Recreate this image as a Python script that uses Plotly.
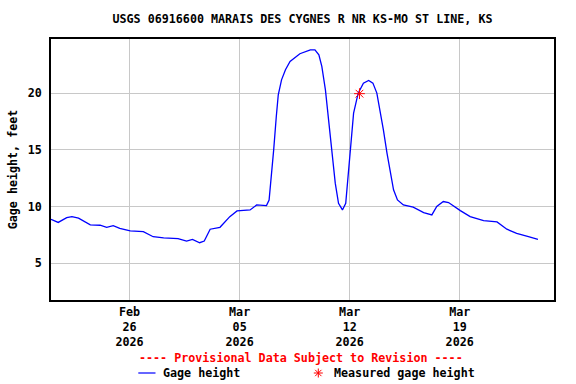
import plotly.graph_objects as go

# ---- data ----
times = [
    "2026-02-21 00:00", "2026-02-21 11:00", "2026-02-22 00:00", "2026-02-22 08:00",
    "2026-02-22 18:00", "2026-02-23 04:00", "2026-02-23 12:00", "2026-02-24 03:00",
    "2026-02-24 13:00", "2026-02-24 23:00", "2026-02-25 09:00", "2026-02-26 01:00",
    "2026-02-26 21:00", "2026-02-27 12:00", "2026-02-28 04:00", "2026-03-01 02:00",
    "2026-03-01 15:00", "2026-03-02 00:00", "2026-03-02 11:00", "2026-03-02 18:00",
    "2026-03-03 03:00", "2026-03-03 18:00", "2026-03-04 09:00", "2026-03-04 20:00",
    "2026-03-05 16:00", "2026-03-06 02:00", "2026-03-06 17:00", "2026-03-06 21:00",
    "2026-03-06 23:30", "2026-03-07 04:00", "2026-03-07 08:00", "2026-03-07 11:00",
    "2026-03-07 16:00", "2026-03-07 22:00", "2026-03-08 05:00", "2026-03-08 20:00",
    "2026-03-09 12:00", "2026-03-09 19:00", "2026-03-10 01:00", "2026-03-10 05:30",
    "2026-03-10 11:00", "2026-03-10 16:00", "2026-03-10 21:00", "2026-03-11 02:00",
    "2026-03-11 07:00", "2026-03-11 13:00", "2026-03-11 18:00", "2026-03-11 22:00",
    "2026-03-12 02:00", "2026-03-12 06:00", "2026-03-12 13:00", "2026-03-12 21:00",
    "2026-03-13 05:00", "2026-03-13 11:30", "2026-03-13 17:30", "2026-03-13 22:30",
    "2026-03-14 03:30", "2026-03-14 09:00", "2026-03-14 14:00", "2026-03-14 19:00",
    "2026-03-15 01:00", "2026-03-15 10:00", "2026-03-16 01:00", "2026-03-16 17:00",
    "2026-03-17 05:30", "2026-03-17 13:00", "2026-03-17 23:00", "2026-03-18 07:00",
    "2026-03-19 01:00", "2026-03-19 16:00", "2026-03-20 12:30", "2026-03-21 09:00",
    "2026-03-22 00:00", "2026-03-22 15:00", "2026-03-23 09:00", "2026-03-23 23:30",
]
gage_height = [
    8.88, 8.60, 9.02, 9.11,
    8.97, 8.60, 8.38, 8.35,
    8.17, 8.31, 8.08, 7.85,
    7.79, 7.34, 7.23, 7.17,
    6.96, 7.11, 6.81, 6.96,
    8.00, 8.17, 9.11, 9.61,
    9.70, 10.14, 10.08, 10.58,
    12.06, 15.00, 17.94, 19.85,
    21.17, 22.06, 22.79, 23.47,
    23.82, 23.82, 23.38, 22.35,
    20.29, 17.35, 14.40, 12.06,
    10.29, 9.70, 10.29, 12.94,
    16.17, 18.23, 20.00, 20.88,
    21.11, 20.88, 20.00, 18.53,
    16.76, 14.70, 12.94, 11.47,
    10.58, 10.14, 9.94, 9.47,
    9.26, 10.00, 10.44, 10.35,
    9.64, 9.11, 8.76, 8.64,
    8.00, 7.64, 7.35, 7.11,
]
measured_time = ["2026-03-12 15:00"]
measured_height = [19.95]

tick_vals = ["2026-02-26", "2026-03-05", "2026-03-12", "2026-03-19"]
tick_text = ["Feb<br>26<br>2026", "Mar<br>05<br>2026", "Mar<br>12<br>2026", "Mar<br>19<br>2026"]
y_ticks = [5, 10, 15, 20]

FONT = "DejaVu Sans Mono"
FS = 11.7

fig = go.Figure()
fig.add_trace(go.Scatter(
    x=times, y=gage_height, mode="lines",
    line=dict(color="#0000ff", width=1.3),
    showlegend=False, hoverinfo="skip",
))
fig.add_trace(go.Scatter(
    x=measured_time, y=measured_height, mode="markers",
    marker=dict(symbol="asterisk-open", size=9, color="#ff0000",
                line=dict(color="#ff0000", width=1)),
    showlegend=False, hoverinfo="skip",
))

fig.update_layout(
    width=576, height=384,
    margin=dict(l=51, r=22, t=39, b=84),
    paper_bgcolor="white", plot_bgcolor="white",
    font=dict(family=FONT, size=FS, color="black", weight="bold"),
    title=dict(
        text="USGS 06916600 MARAIS DES CYGNES R NR KS-MO ST LINE, KS",
        font=dict(family=FONT, size=FS, color="black", weight="bold"),
        x=0.5, xref="paper", xanchor="center",
        y=1 - 19 / 384, yref="container", yanchor="middle",
    ),
    xaxis=dict(
        type="date",
        range=["2026-02-21 00:00", "2026-03-25 00:00"],
        tickvals=tick_vals, ticktext=tick_text,
        showgrid=True, gridcolor="#c8c8c8", gridwidth=1,
        showline=True, linecolor="black", linewidth=1.5, mirror=True,
        ticks="", zeroline=False,
        tickfont=dict(family=FONT, size=FS, color="black", weight="bold"),
    ),
    yaxis=dict(
        range=[1.76, 24.77],
        tickvals=y_ticks,
        showgrid=True, gridcolor="#c8c8c8", gridwidth=1,
        showline=True, linecolor="black", linewidth=1.5, mirror=True,
        ticks="outside", ticklen=5, tickcolor="white", zeroline=False,
        tickfont=dict(family=FONT, size=FS, color="black", weight="bold"),
        title=dict(text="Gage height, feet", standoff=8,
                   font=dict(family=FONT, size=FS, color="black", weight="bold")),
    ),
)

# Provisional-data note and legend (drawn below the plot area)
fig.add_annotation(
    text="---- Provisional Data Subject to Revision ----",
    xref="paper", yref="paper", x=0.497, y=-(358.3 - 300) / 261,
    xanchor="center", yanchor="middle", showarrow=False,
    font=dict(family=FONT, size=FS, color="#ff0000", weight="bold"),
)
leg_y = -(373 - 300) / 261
px = lambda v: (v - 51) / 503
fig.add_shape(type="line", xref="paper", yref="paper",
              x0=px(138.3), x1=px(155.5), y0=leg_y, y1=leg_y,
              line=dict(color="#0000ff", width=1.2))
fig.add_annotation(
    text="Gage height", xref="paper", yref="paper", x=px(161), y=leg_y,
    xanchor="left", yanchor="middle", showarrow=False,
    font=dict(family=FONT, size=FS, color="black", weight="bold"),
)
# asterisk legend symbol
sx, sr = 318.3, 4.5
for dx, dy in [(1, 0), (0, 1), (0.7, 0.7), (0.7, -0.7)]:
    fig.add_shape(type="line", xref="paper", yref="paper",
                  x0=px(sx - sr * dx), x1=px(sx + sr * dx),
                  y0=leg_y - sr * dy / 261, y1=leg_y + sr * dy / 261,
                  line=dict(color="#ff0000", width=1))
fig.add_annotation(
    text="Measured gage height", xref="paper", yref="paper", x=px(332), y=leg_y,
    xanchor="left", yanchor="middle", showarrow=False,
    font=dict(family=FONT, size=FS, color="black", weight="bold"),
)

fig.write_html("out.html", config={"displayModeBar": False},
               post_script="document.body.style.margin='0';")
